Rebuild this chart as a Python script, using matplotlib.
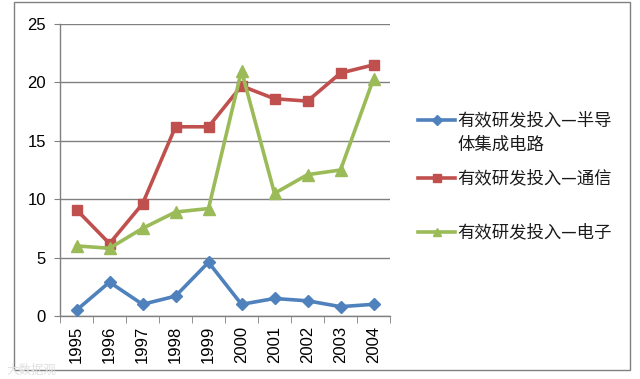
import matplotlib
matplotlib.use("Agg")
import matplotlib.pyplot as plt
from matplotlib.lines import Line2D
from matplotlib.patches import Rectangle
import numpy as np

plt.rcParams['font.family'] = ['Noto Sans CJK SC', 'DejaVu Sans']

years = ['1995', '1996', '1997', '1998', '1999', '2000', '2001', '2002', '2003', '2004']
semiconductor = [0.5, 2.9, 1.0, 1.7, 4.6, 1.0, 1.5, 1.3, 0.8, 1.0]
telecom = [9.1, 6.2, 9.6, 16.2, 16.2, 19.7, 18.6, 18.4, 20.8, 21.5]
electronics = [6.0, 5.8, 7.5, 8.9, 9.2, 21.0, 10.5, 12.1, 12.5, 20.3]
labels = ['有效研发投入—半导\n体集成电路', '有效研发投入—通信', '有效研发投入—电子']
yticks = [0, 5, 10, 15, 20, 25]

colors = ['#4F81BD', '#C0504D', '#9BBB59']
markers = ['D', 's', '^']
msizes = [6.5, 7.5, 8.5]

fig = plt.figure(figsize=(6.4, 3.79), dpi=100)
ax = fig.add_axes([60/640, 1-316/379, 330/640, 292/379])

x = np.arange(len(years))
series = [semiconductor, telecom, electronics]
for s, c, m, ms in zip(series, colors, markers, msizes):
    ax.plot(x, s, color=c, marker=m, markersize=ms, linewidth=2.6,
            markeredgecolor=c, zorder=3)

ax.set_xlim(-0.5, len(years) - 0.5)
ax.set_ylim(0, 25)
ax.set_yticks(yticks)
ax.set_yticklabels([str(t) for t in yticks], fontsize=12, family='Liberation Sans')
ax.yaxis.grid(True, color='#808080', linewidth=1)
ax.set_axisbelow(True)
ax.tick_params(axis='y', length=4, color='#808080', direction='out', pad=6)

ax.set_xticks(x)
ax.set_xticklabels(years, rotation=90, fontsize=12, family='Liberation Sans')
ax.tick_params(axis='x', which='major', length=0, pad=7)
ax.set_xticks(np.arange(len(years) + 1) - 0.5, minor=True)
ax.tick_params(axis='x', which='minor', length=5, color='#808080', direction='out')

for sp in ['top', 'right']:
    ax.spines[sp].set_visible(False)
for sp in ['left', 'bottom']:
    ax.spines[sp].set_color('#808080')
    ax.spines[sp].set_linewidth(1)

# legend (manual, figure coordinates)
entry_y = [120, 178, 232]
for lab, c, m, ms, yy in zip(labels, colors, markers, msizes, entry_y):
    fy = 1 - yy/379
    fig.add_artist(Line2D([418/640, 455/640], [fy, fy], color=c, linewidth=2.6,
                          transform=fig.transFigure))
    fig.add_artist(Line2D([436.5/640], [fy], color=c, marker=m, markersize=ms*0.75,
                          markeredgecolor=c, transform=fig.transFigure))
    fig.text(457/640, fy + 9/379, lab, fontsize=12.5, va='top', ha='left',
             linespacing=1.45, color='#1a1a1a')

# outer border
fig.add_artist(Rectangle((14/640, 1-370/379), 616/640, 368/379, fill=False,
                         edgecolor='#808080', linewidth=1, transform=fig.transFigure))

# watermark
fig.text(6/640, 1-377/379, '大数据观', fontsize=9, color='#e0e0e0', ha='left', va='bottom')

fig.savefig('out.png', dpi=100)
